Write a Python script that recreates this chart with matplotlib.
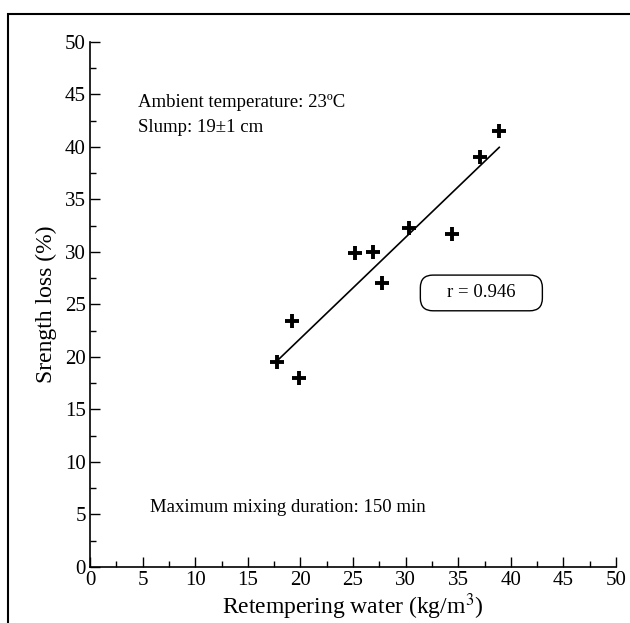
import numpy as np
import matplotlib
matplotlib.use("Agg")
import matplotlib.pyplot as plt
from matplotlib.patches import FancyBboxPatch, Rectangle
from matplotlib.ticker import MultipleLocator

# Values
water = [17.8, 19.2, 19.9, 25.2, 26.9, 27.8, 30.3, 34.4, 37.1, 38.9]
loss = [19.5, 23.4, 18.0, 29.9, 30.0, 27.0, 32.3, 31.7, 39.0, 41.5]
r_value = 0.946

plt.rcParams["font.family"] = ["Liberation Serif", "DejaVu Serif"]
plt.rcParams["mathtext.fontset"] = "stix"

fig = plt.figure(figsize=(6.3, 6.23), dpi=100)
ax = fig.add_axes([0.1429, 0.0899, 0.8349, 0.8427])

# outer frame (cut off on right and bottom like the reference)
fig.patches.append(Rectangle((8 / 630, -0.1), 1.2, 1 - 14 / 623 + 0.1,
                             transform=fig.transFigure, fill=False,
                             edgecolor="black", linewidth=1.5))

ax.plot(water, loss, linestyle="none", marker="+", markersize=10,
        markeredgewidth=2.8, color="black")

# least-squares line through the points
slope, intercept = np.polyfit(water, loss, 1)
xs = np.array([min(water), max(water)])
ax.plot(xs, slope * xs + intercept, color="black", linewidth=1.2)

box = FancyBboxPatch((31.4, 24.4), 11.6, 3.4,
                     boxstyle="round,pad=0,rounding_size=1.2",
                     facecolor="white", edgecolor="black", linewidth=1.0)
ax.add_patch(box)
ax.text(37.2, 26.1, f"r = {r_value}", ha="center", va="center", fontsize=13.5)

ax.text(4.6, 44.2, "Ambient temperature: 23ºC", fontsize=13.5, va="center")
ax.text(4.6, 41.9, "Slump: 19±1 cm", fontsize=13.5, va="center")
ax.text(5.7, 5.7, "Maximum mixing duration: 150 min", fontsize=13.5, va="center")

ax.set_xlim(0, 50)
ax.set_ylim(0, 50)
ax.xaxis.set_major_locator(MultipleLocator(5))
ax.xaxis.set_minor_locator(MultipleLocator(2.5))
ax.yaxis.set_major_locator(MultipleLocator(5))
ax.yaxis.set_minor_locator(MultipleLocator(2.5))
ax.tick_params(which="major", direction="in", length=7, width=1, labelsize=15,
               pad=3)
ax.tick_params(which="minor", direction="in", length=4, width=1)
ax.spines["top"].set_visible(False)
ax.spines["right"].set_visible(False)
ax.spines["left"].set_linewidth(1.2)
ax.spines["bottom"].set_linewidth(1.2)

ax.set_xlabel("Retempering water (kg/m$^3$)", fontsize=17, labelpad=1)
ax.set_ylabel("Srength loss (%)", fontsize=17, labelpad=6)

fig.savefig("out.png", dpi=100)
